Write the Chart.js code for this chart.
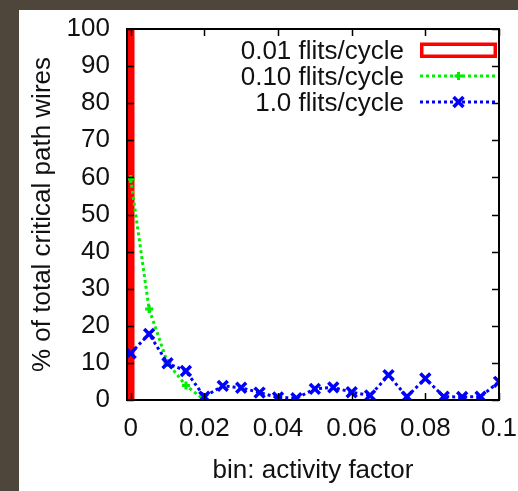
<!DOCTYPE html>
<html>
<head>
<meta charset="utf-8">
<script src="https://cdn.jsdelivr.net/npm/chart.js@4.4.1/dist/chart.umd.min.js"></script>
<style>
  html, body { margin: 0; padding: 0; background: #4e463b; width: 518px; height: 491px; overflow: hidden; }
  #wrap { position: absolute; left: 19px; top: 10px; width: 499px; height: 481px; background: #fff; }
</style>
</head>
<body>
<div id="wrap"><canvas id="chart" width="499" height="481"></canvas></div>
<script>
// bins of activity factor
const bins = [0, 0.005, 0.01, 0.015, 0.02, 0.025, 0.03, 0.035, 0.04, 0.045, 0.05,
              0.055, 0.06, 0.065, 0.07, 0.075, 0.08, 0.085, 0.09, 0.095, 0.1];
// % of wires per bin, one array per injection rate
const load001 = [100];
const load010 = [59.6, 24.5, 10.0, 3.9, 0];
const load100 = [12.6, 17.8, 9.9, 7.8, 0.9, 3.8, 3.3, 2.0, 0.7, 0.5, 3.0,
                 3.4, 2.1, 1.2, 6.7, 0.9, 5.8, 0.9, 0.8, 0.9, 4.9];
const seriesLabels = ['0.01 flits/cycle', '0.10 flits/cycle', '1.0 flits/cycle'];
const xTicks = [0, 0.02, 0.04, 0.06, 0.08, 0.1];
const yTicks = [0, 10, 20, 30, 40, 50, 60, 70, 80, 90, 100];

const FONT = 'Liberation Sans, Arial, Helvetica, sans-serif';
const FSIZE = 26;
const toPoints = (vals) => vals.map((v, i) => ({ x: bins[i], y: v }));

// gnuplot style frame with inward ticks on all four sides
const framePlugin = {
  id: 'frame',
  afterDatasetsDraw(chart) {
    const { ctx, chartArea: a, scales } = chart;
    const len = 7;
    ctx.save();
    ctx.strokeStyle = '#000';
    ctx.lineWidth = 1.5;
    ctx.beginPath();
    yTicks.forEach(v => {
      const y = Math.round(scales.y.getPixelForValue(v)) + 0.5;
      ctx.moveTo(a.left, y); ctx.lineTo(a.left + len, y);
      ctx.moveTo(a.right, y); ctx.lineTo(a.right - len, y);
    });
    xTicks.forEach(v => {
      const x = Math.round(scales.x.getPixelForValue(v)) + 0.5;
      ctx.moveTo(x, a.bottom); ctx.lineTo(x, a.bottom - len);
      ctx.moveTo(x, a.top); ctx.lineTo(x, a.top + len);
    });
    ctx.stroke();
    ctx.lineWidth = 2;
    ctx.strokeRect(a.left, a.top, a.right - a.left, a.bottom - a.top);
    ctx.restore();
  }
};

// key in the top right corner: text right aligned, sample to its right
const keyPlugin = {
  id: 'key',
  afterDraw(chart) {
    const { ctx, chartArea: a } = chart;
    const textRight = a.right - 95;
    const x0 = a.right - 79, x1 = a.right - 2;
    ctx.save();
    ctx.font = FSIZE + 'px ' + FONT;
    ctx.textAlign = 'right';
    ctx.textBaseline = 'alphabetic';
    chart.data.datasets.forEach((ds, i) => {
      const y = a.top + 21 + i * 26;
      ctx.fillStyle = '#111';
      ctx.fillText(ds.label, textRight, y + 9);
      if (ds.type === 'bar') {
        ctx.fillStyle = '#fff';
        ctx.fillRect(x0, y - 7, x1 - x0, 14);
        ctx.strokeStyle = ds.backgroundColor;
        ctx.lineWidth = 3.5;
        ctx.strokeRect(x0 + 1.75, y - 5.75, x1 - x0 - 3.5, 12);
      } else {
        ctx.strokeStyle = ds.borderColor;
        ctx.fillStyle = ds.borderColor;
        ctx.lineWidth = ds.borderWidth;
        ctx.setLineDash(ds.borderDash);
        ctx.beginPath();
        ctx.moveTo(x0, y); ctx.lineTo(x1, y);
        ctx.stroke();
        ctx.setLineDash([]);
        ctx.lineWidth = ds.pointBorderWidth;
        Chart.helpers.drawPoint(ctx, {
          pointStyle: ds.pointStyle,
          radius: ds.pointRadius,
          rotation: 0,
          borderWidth: ds.pointBorderWidth
        }, (x0 + x1) / 2, y);
      }
    });
    ctx.restore();
  }
};

new Chart(document.getElementById('chart'), {
  data: {
    datasets: [
      {
        type: 'bar',
        label: seriesLabels[0],
        data: toPoints(load001),
        backgroundColor: '#ff0000',
        borderWidth: 0,
        barThickness: 7,
        order: 3
      },
      {
        type: 'line',
        label: seriesLabels[1],
        data: toPoints(load010),
        borderColor: '#00ee00',
        backgroundColor: '#00ee00',
        borderWidth: 3,
        borderDash: [3, 3],
        pointStyle: 'cross',
        pointRadius: 4,
        pointBorderWidth: 3,
        pointBorderColor: '#00ee00',
        tension: 0,
        order: 2
      },
      {
        type: 'line',
        label: seriesLabels[2],
        data: toPoints(load100),
        borderColor: '#0000ff',
        backgroundColor: '#0000ff',
        borderWidth: 3,
        borderDash: [3, 3],
        pointStyle: 'crossRot',
        pointRadius: 7,
        pointBorderWidth: 3.5,
        pointBorderColor: '#0000ff',
        tension: 0,
        order: 1
      }
    ]
  },
  options: {
    responsive: false,
    animation: false,
    devicePixelRatio: 1,
    layout: { padding: { top: 19, right: 19, left: 0, bottom: 0 } },
    plugins: { legend: { display: false }, tooltip: { enabled: false } },
    scales: {
      x: {
        type: 'linear',
        min: -0.001,
        max: 0.1,
        offset: false,
        grid: { display: false, drawTicks: false },
        border: { display: false },
        afterBuildTicks: (s) => { s.ticks = xTicks.map(v => ({ value: v })); },
        afterFit: (s) => { s.height = 91; s.paddingLeft = 0; s.paddingRight = 0; },
        ticks: {
          padding: 13,
          maxRotation: 0,
          autoSkip: false,
          color: '#111',
          font: { family: FONT, size: FSIZE },
          callback: (v) => String(v)
        },
        title: {
          display: true,
          text: 'bin: activity factor',
          color: '#111',
          font: { family: FONT, size: FSIZE },
          padding: { top: 0, bottom: 5 }
        }
      },
      y: {
        min: 0,
        max: 100,
        grid: { display: false, drawTicks: false },
        border: { display: false },
        afterBuildTicks: (s) => { s.ticks = yTicks.map(v => ({ value: v })); },
        afterFit: (s) => { s.width = 108; s.paddingTop = 0; s.paddingBottom = 0; },
        ticks: {
          padding: 17,
          color: '#111',
          font: { family: FONT, size: FSIZE }
        },
        title: {
          display: true,
          text: '% of total critical path wires',
          color: '#111',
          font: { family: FONT, size: FSIZE },
          padding: { top: 8, bottom: 0 }
        }
      }
    }
  },
  plugins: [framePlugin, keyPlugin]
});
</script>
</body>
</html>
